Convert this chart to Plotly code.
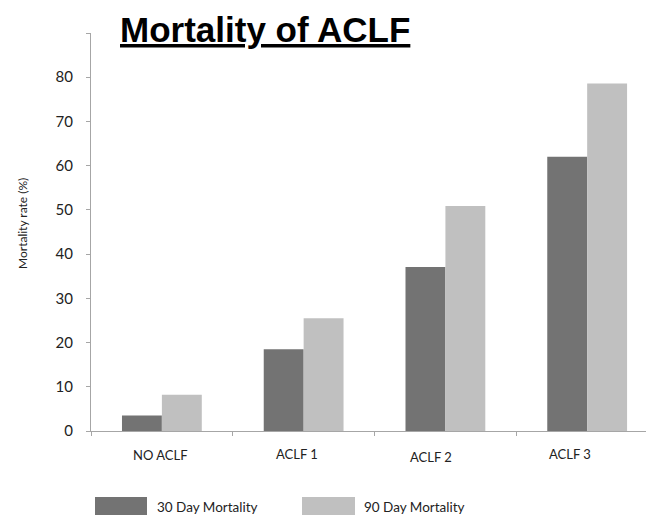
import plotly.graph_objects as go

# Mortality rate (%) by ACLF grade
categories = ["NO ACLF", "ACLF 1", "ACLF 2", "ACLF 3"]
series_names = ["30 Day Mortality", "90 Day Mortality"]
mortality_30d = [3.5, 18.5, 37.1, 62.0]
mortality_90d = [8.2, 25.5, 50.9, 78.6]
y_tick_values = [0, 10, 20, 30, 40, 50, 60, 70, 80, 90]
y_tick_labels = ["0", "10", "20", "30", "40", "50", "60", "70", "80", ""]

DARK = "#737373"
LIGHT = "#c0c0c0"
AXIS = "#a6a6a6"
TEXT_FONT = "Lato, 'Open Sans', sans-serif"

W, H = 646, 515
L, R, T, B = 91, 0, 33, 84
plot_w = W - L - R
plot_h = H - T - B


def px_x(px):
    return (px - L) / plot_w


def px_y(py):
    return (H - B - py) / plot_h


fig = go.Figure()
fig.add_trace(go.Bar(x=categories, y=mortality_30d, name=series_names[0],
                     marker=dict(color=DARK, line=dict(width=0))))
fig.add_trace(go.Bar(x=categories, y=mortality_90d, name=series_names[1],
                     marker=dict(color=LIGHT, line=dict(width=0))))

# Category labels, set slightly below the axis
label_shift_x = [-1, -7, -14, -17]
label_shift_y = [-24, -23, -26, -23]
annotations = []
for cat, dx, dy in zip(categories, label_shift_x, label_shift_y):
    annotations.append(dict(x=cat, xref="x", y=0, yref="paper", text=cat,
                            showarrow=False, xshift=dx, yshift=dy,
                            xanchor="center", yanchor="middle",
                            font=dict(family=TEXT_FONT, size=13, color="#222")))

# Title
annotations.append(dict(x=px_x(264.5), xref="paper", y=px_y(30), yref="paper",
                        text="<b><u>Mortality of ACLF</u></b>", showarrow=False,
                        xanchor="center", yanchor="middle",
                        font=dict(family="'Liberation Sans', Arial, sans-serif",
                                  size=35, color="#000")))

# Y axis title
annotations.append(dict(x=px_x(22), xref="paper", y=px_y(224), yref="paper",
                        text="Mortality rate (%)", showarrow=False, textangle=-90,
                        xanchor="center", yanchor="middle",
                        font=dict(family=TEXT_FONT, size=12, color="#222")))

# Legend swatches and names
shapes = []
legend_items = [(series_names[0], DARK, 95, 147, 155),
                (series_names[1], LIGHT, 302, 355, 362)]
for name, color, x0, x1, tx in legend_items:
    shapes.append(dict(type="rect", xref="paper", yref="paper",
                       x0=px_x(x0), x1=px_x(x1), y0=px_y(520), y1=px_y(497),
                       fillcolor=color, line=dict(width=0)))
    annotations.append(dict(x=px_x(tx), xref="paper", y=px_y(507), yref="paper",
                            text=name, showarrow=False, xanchor="left", yanchor="middle",
                            font=dict(family=TEXT_FONT, size=13.5, color="#222")))

fig.update_layout(
    width=W, height=H,
    margin=dict(l=L, r=R, t=T, b=B, pad=0),
    paper_bgcolor="white", plot_bgcolor="white",
    barmode="group", bargap=0.437, bargroupgap=0,
    showlegend=False,
    annotations=annotations, shapes=shapes,
    xaxis=dict(type="category", range=[-0.5, 3.415], showticklabels=False,
               tickson="boundaries", ticks="outside", ticklen=4, tickcolor=AXIS,
               showline=True, linecolor=AXIS, linewidth=1, showgrid=False,
               zeroline=False, fixedrange=True),
    yaxis=dict(range=[0, 90], tickvals=y_tick_values, ticktext=y_tick_labels,
               ticks="outside", ticklen=4, tickcolor=AXIS,
               showline=True, linecolor=AXIS, linewidth=1, showgrid=False,
               zeroline=False, tickfont=dict(family=TEXT_FONT, size=15, color="#222"),
               ticklabelstandoff=10),
)

fig.write_html("out.html")
